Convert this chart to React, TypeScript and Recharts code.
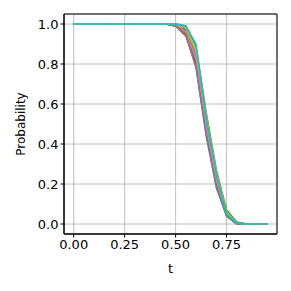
import { LineChart, Line, XAxis, YAxis, CartesianGrid, ReferenceArea } from 'recharts';

const T = [0, 0.05, 0.1, 0.15, 0.2, 0.25, 0.3, 0.35, 0.4, 0.45, 0.5, 0.55, 0.6, 0.65, 0.7, 0.75, 0.8, 0.85, 0.9, 0.95];

const FLAT = [1, 1, 1, 1, 1, 1, 1, 1, 1, 1];
const TAIL = [0, 0, 0];

const run0 = [...FLAT, 1, 0.97, 0.84, 0.5, 0.22, 0.05, 0.005, ...TAIL];
const run1 = [...FLAT, 1, 0.98, 0.86, 0.52, 0.24, 0.04, 0, ...TAIL];
const run2 = [...FLAT, 1, 0.99, 0.89, 0.56, 0.27, 0.07, 0.01, ...TAIL];
const run3 = [...FLAT, 1, 0.96, 0.8, 0.47, 0.2, 0.05, 0, ...TAIL];
const run4 = [...FLAT, 0.99, 0.95, 0.82, 0.48, 0.21, 0.05, 0, ...TAIL];
const run5 = [...FLAT, 0.99, 0.94, 0.79, 0.45, 0.19, 0.04, 0, ...TAIL];
const run6 = [...FLAT, 1, 0.96, 0.83, 0.49, 0.22, 0.05, 0, ...TAIL];
const run7 = [...FLAT, 0.99, 0.95, 0.78, 0.44, 0.18, 0.04, 0, ...TAIL];
const run8 = [...FLAT, 1, 0.98, 0.87, 0.55, 0.26, 0.06, 0.005, ...TAIL];
const run9 = [...FLAT, 1, 0.99, 0.9, 0.53, 0.25, 0.05, 0.005, ...TAIL];

const RUNS = [run0, run1, run2, run3, run4, run5, run6, run7, run8, run9];
const COLORS = ['#1f77b4', '#ff7f0e', '#2ca02c', '#d62728', '#9467bd', '#8c564b', '#e377c2', '#7f7f7f', '#bcbd22', '#17becf'];

const X_TICKS = [0, 0.25, 0.5, 0.75];
const Y_TICKS = [0, 0.2, 0.4, 0.6, 0.8, 1.0];

const data = T.map((t, i) => {
  const row: Record<string, number> = { t };
  RUNS.forEach((r, k) => {
    row[`r${k}`] = r[i];
  });
  return row;
});

const tickFont = { fontFamily: 'DejaVu Sans', fontSize: 13, fill: '#000' };
const labelFont = { fontFamily: 'DejaVu Sans', fontSize: 12, fill: '#000' };

export default function App() {
  return (
    <div style={{ position: 'absolute', left: 0, top: 0, background: '#fff' }}>
      <LineChart width={291} height={291} data={data} margin={{ top: 14, right: 14, left: 0, bottom: 0 }}>
        <CartesianGrid stroke="#b0b0b0" strokeWidth={0.8} />
        <XAxis
          dataKey="t"
          type="number"
          domain={[-0.0475, 0.9975]}
          ticks={X_TICKS}
          tickFormatter={(v: number) => v.toFixed(2)}
          height={57}
          tick={tickFont}
          tickSize={3.5}
          tickLine={{ stroke: '#000' }}
          axisLine={{ stroke: '#000' }}
          allowDataOverflow
          label={{ value: 't', position: 'insideBottom', offset: 18, style: { ...labelFont, fontSize: 13 } }}
        />
        <YAxis
          type="number"
          domain={[-0.05, 1.05]}
          ticks={Y_TICKS}
          tickFormatter={(v: number) => v.toFixed(1)}
          width={64}
          tick={tickFont}
          tickSize={3.5}
          tickLine={{ stroke: '#000' }}
          axisLine={{ stroke: '#000' }}
          allowDataOverflow
          label={{ value: 'Probability', angle: -90, position: 'insideLeft', dx: 16, style: { ...labelFont, textAnchor: 'middle' } }}
        />
        <ReferenceArea x1={-0.0475} x2={0.9975} y1={-0.05} y2={1.05} fill="none" stroke="#000" strokeWidth={1} />
        {RUNS.map((_, k) => (
          <Line
            key={k}
            dataKey={`r${k}`}
            stroke={COLORS[k]}
            strokeWidth={1.5}
            dot={false}
            isAnimationActive={false}
          />
        ))}
      </LineChart>
    </div>
  );
}
